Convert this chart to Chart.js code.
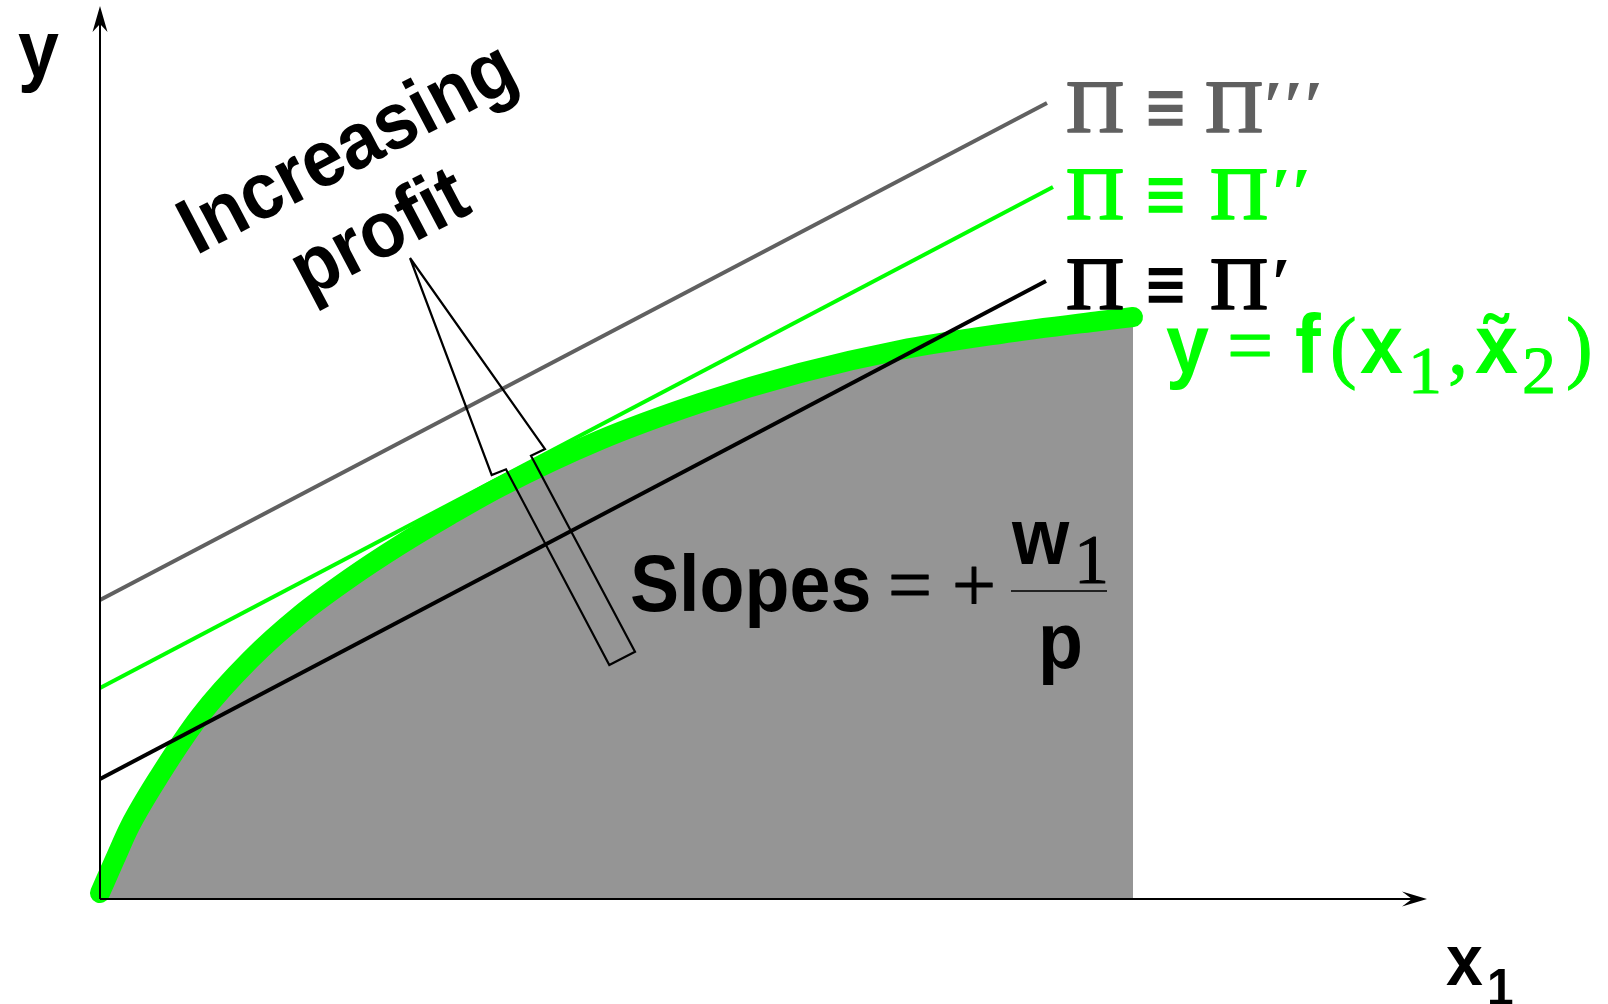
<!DOCTYPE html>
<html>
<head>
<meta charset="utf-8">
<script src="https://cdn.jsdelivr.net/npm/chart.js@4.4.1/dist/chart.umd.min.js"></script>
<style>
  html, body { margin: 0; padding: 0; background: #fff; }
  #wrap { width: 1608px; height: 1004px; }
</style>
</head>
<body>
<div id="wrap"><canvas id="chart" width="1608" height="1004"></canvas></div>
<script>
// axis ranges (x1 horizontal, y vertical), no ticks shown
const X_MAX = 13.27;
const Y_MAX = 8.93;

// production function y = f(x1, x2~)
const curveX = [0, 0.15, 0.30, 0.60, 1.00, 1.50, 2.00, 2.50, 3.00, 3.50, 4.00, 5.00, 6.00, 7.00, 8.00, 9.00, 10.00, 10.33];
const curveY = [0.06, 0.40, 0.73, 1.24, 1.83, 2.39, 2.84, 3.21, 3.54, 3.84, 4.12, 4.59, 4.96, 5.26, 5.49, 5.65, 5.78, 5.82];

// iso-profit lines, start and end
const profit1X = [0, 9.46];
const profit1Y = [1.20, 6.18];
const profit2X = [0, 9.53];
const profit2Y = [2.11, 7.12];
const profit3X = [0, 9.47];
const profit3Y = [2.99, 7.96];

// hollow arrow "increasing profit"
const arrowX = [3.10, 3.917, 4.06, 5.093, 5.35, 4.31, 4.45, 3.10];
const arrowY = [6.41, 4.24, 4.297, 2.34, 2.473, 4.433, 4.50, 6.41];

// labels
const profitPrimes = ['\u2032', '\u2032\u2032', '\u2032\u2032\u2032'];
const arrowText = ['Increasing', 'profit'];

const SANS = '"Liberation Sans", Arial, Helvetica, sans-serif';
const SERIF = '"Liberation Serif", "Times New Roman", serif';
const GREEN = '#00ff00';
const GREY_LINE = '#606060';
const GREY_FILL = '#959595';

function zip(xs, ys) {
    return xs.map((x, i) => ({ x: x, y: ys[i] }));
}

// one text piece; heavy > 0 thickens thin serif glyphs a little
function piece(ctx, str, x, y, font, color, sx, sy, heavy) {
    ctx.save();
    ctx.translate(x, y);
    ctx.scale(sx || 1, sy || 1);
    ctx.font = font;
    ctx.fillStyle = color;
    ctx.textAlign = 'left';
    ctx.textBaseline = 'alphabetic';
    ctx.fillText(str, 0, 0);
    if (heavy) {
        ctx.strokeStyle = color;
        ctx.lineWidth = heavy;
        ctx.lineJoin = 'round';
        ctx.strokeText(str, 0, 0);
    }
    ctx.restore();
}

function arrowHead(ctx, tx, ty, dx, dy, len, half, notch) {
    // dx,dy = unit vector pointing to the tip
    const px = -dy, py = dx;
    ctx.beginPath();
    ctx.moveTo(tx, ty);
    ctx.lineTo(tx - dx * len + px * half, ty - dy * len + py * half);
    ctx.lineTo(tx - dx * notch, ty - dy * notch);
    ctx.lineTo(tx - dx * len - px * half, ty - dy * len - py * half);
    ctx.closePath();
    ctx.fill();
}

const axesPlugin = {
    id: 'axesArrows',
    afterDatasetsDraw(chart) {
        const ctx = chart.ctx;
        const xs = chart.scales.x, ys = chart.scales.y;
        const x0 = xs.getPixelForValue(0), y0 = ys.getPixelForValue(0);
        const xEnd = xs.getPixelForValue(X_MAX), yEnd = ys.getPixelForValue(Y_MAX);
        ctx.save();
        ctx.strokeStyle = '#000';
        ctx.fillStyle = '#000';
        ctx.lineWidth = 2;
        ctx.beginPath();
        ctx.moveTo(x0, y0);
        ctx.lineTo(x0, yEnd + 18);
        ctx.moveTo(x0, y0);
        ctx.lineTo(xEnd - 15, y0);
        ctx.stroke();
        arrowHead(ctx, x0, yEnd, 0, -1, 26, 7.5, 18);
        arrowHead(ctx, xEnd, y0, 1, 0, 25, 7.5, 15);
        ctx.restore();
    }
};

const textPlugin = {
    id: 'labels',
    afterDraw(chart) {
        const ctx = chart.ctx;
        const bold = s => 'bold ' + s + 'px ' + SANS;
        const serif = s => s + 'px ' + SERIF;
        const SX = 0.92;

        // axis names
        piece(ctx, 'y', 18, 76, bold(80), '#000', SX);
        piece(ctx, 'x', 1446, 985, bold(72), '#000', SX);
        piece(ctx, '1', 1487, 1005, bold(52), '#000', SX);

        // iso-profit labels
        const rows = [
            { base: 309, color: '#000', x2: 1210, xp: 1270 },
            { base: 219, color: GREEN, x2: 1210, xp: 1270 },
            { base: 132, color: GREY_LINE, x2: 1205, xp: 1262 }
        ];
        rows.forEach((r, i) => {
            piece(ctx, '\u03A0', 1066, r.base, serif(76), r.color, 1.06, 0.97, 2);
            piece(ctx, '\u2261', 1143, r.base - 4, 'bold 60px "DejaVu Sans"', r.color, 0.9, 1.05);
            piece(ctx, '\u03A0', r.x2, r.base, serif(76), r.color, 1.06, 0.97, 2);
            piece(ctx, profitPrimes[i], r.xp, r.base - 2, 'bold italic ' + serif(72), r.color);
        });

        // y = f(x1, x2~)
        const b = 373;
        piece(ctx, 'y', 1166, b, bold(84), GREEN, SX);
        piece(ctx, '=', 1227, b, serif(82), GREEN, 1, 1, 1);
        piece(ctx, 'f', 1295, b, bold(84), GREEN, SX);
        piece(ctx, '(', 1330, b, serif(80), GREEN, 1, 1, 1);
        piece(ctx, 'x', 1360, b, bold(84), GREEN, SX);
        piece(ctx, '1', 1408, 393, serif(68), GREEN, 1, 1, 1);
        piece(ctx, ',', 1448, b, serif(80), GREEN, 1, 1, 1);
        piece(ctx, 'x\u0303', 1475, b, bold(84), GREEN, SX);
        piece(ctx, '2', 1522, 393, serif(68), GREEN, 1, 1, 1);
        piece(ctx, ')', 1566, b, serif(80), GREEN, 1, 1, 1);

        // slopes = + w1 / p
        piece(ctx, 'Slopes', 630, 611, bold(80), '#000', SX);
        piece(ctx, '=', 888, 611, serif(78), '#000', 1, 1, 1);
        piece(ctx, '+', 952, 611, serif(78), '#000', 1, 1, 1);
        ctx.save();
        ctx.strokeStyle = '#222';
        ctx.lineWidth = 2;
        ctx.beginPath();
        ctx.moveTo(1011, 591);
        ctx.lineTo(1107, 591);
        ctx.stroke();
        ctx.restore();
        piece(ctx, 'w', 1012, 564, bold(80), '#000', SX);
        piece(ctx, '1', 1074, 583, serif(70), '#000', 1, 1, 1);
        piece(ctx, 'p', 1038, 668, bold(80), '#000', SX);

        // rotated "Increasing profit"
        const ang = -Math.atan(0.5256);
        const centres = [[359, 170], [391, 255]];
        arrowText.forEach((t, i) => {
            ctx.save();
            ctx.translate(centres[i][0], centres[i][1]);
            ctx.rotate(ang);
            ctx.scale(SX, 1);
            ctx.font = bold(80);
            ctx.fillStyle = '#000';
            ctx.textAlign = 'center';
            ctx.textBaseline = 'alphabetic';
            ctx.fillText(t, 0, 0);
            ctx.restore();
        });
    }
};

const lineDs = (pts, color, width, order) => ({
    data: pts,
    showLine: true,
    borderColor: color,
    borderWidth: width,
    pointRadius: 0,
    pointHoverRadius: 0,
    fill: false,
    order: order
});

new Chart(document.getElementById('chart'), {
    type: 'scatter',
    data: {
        datasets: [
            Object.assign(lineDs(zip(arrowX, arrowY), '#000', 2.2, 0), { borderJoinStyle: 'miter', clip: false }),
            lineDs(zip(profit1X, profit1Y), '#000', 4, 1),
            lineDs(zip(profit2X, profit2Y), GREEN, 4, 2),
            lineDs(zip(profit3X, profit3Y), GREY_LINE, 4, 3),
            Object.assign(lineDs(zip(curveX, curveY), GREEN, 20, 4), {
                fill: 'origin',
                backgroundColor: GREY_FILL,
                borderCapStyle: 'round',
                borderJoinStyle: 'round',
                cubicInterpolationMode: 'monotone',
                clip: false
            })
        ]
    },
    options: {
        responsive: false,
        animation: false,
        events: [],
        layout: { padding: { left: 100, right: 181, top: 6, bottom: 105 } },
        plugins: { legend: { display: false }, tooltip: { enabled: false } },
        scales: {
            x: { type: 'linear', min: 0, max: X_MAX, display: false },
            y: { type: 'linear', min: 0, max: Y_MAX, display: false }
        }
    },
    plugins: [axesPlugin, textPlugin]
});
</script>
</body>
</html>
